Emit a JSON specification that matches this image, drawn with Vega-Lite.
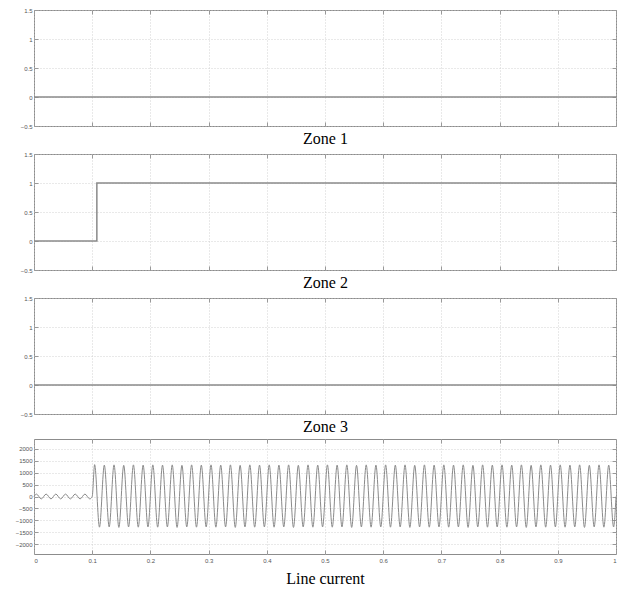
{
  "$schema": "https://vega.github.io/schema/vega-lite/v6.json",
  "padding": {"left": 14, "top": 6, "right": 5, "bottom": 4},
  "spacing": 3,
  "config": {
    "view": {"stroke": "#8c8c8c", "strokeWidth": 1},
    "axis": {
      "labelFont": "Liberation Sans", "labelFontSize": 6, "labelColor": "#555",
      "domain": false, "tickColor": "#999", "tickSize": -4,
      "grid": true, "gridColor": "#c8c8c8", "gridDash": [1, 2], "gridWidth": 0.8,
      "titleFont": "Liberation Serif", "titleFontSize": 16, "titleFontWeight": "normal", "titleColor": "#000",
      "labelPadding": 6
    }
  },
  "datasets": {
    "zero": [{"t": 0, "v": 0}, {"t": 1, "v": 0}],
    "zone2": [{"t": 0, "v": 0}, {"t": 0.108, "v": 0}, {"t": 0.108, "v": 1}, {"t": 1, "v": 1}],
    "current": [
        {"t": 0, "i": 0},
        {"t": 0.00417, "i": 100}, {"t": 0.0125, "i": -100}, {"t": 0.02083, "i": 100}, {"t": 0.02917, "i": -100},
        {"t": 0.0375, "i": 100}, {"t": 0.04583, "i": -100}, {"t": 0.05417, "i": 100}, {"t": 0.0625, "i": -100},
        {"t": 0.07083, "i": 100}, {"t": 0.07917, "i": -100}, {"t": 0.0875, "i": 100}, {"t": 0.09583, "i": -100},
        {"t": 0.1, "i": 0},
        {"t": 0.10417, "i": 1330}, {"t": 0.1125, "i": -1280}, {"t": 0.12083, "i": 1310}, {"t": 0.12917, "i": -1270},
        {"t": 0.1375, "i": 1320}, {"t": 0.14583, "i": -1290}, {"t": 0.15417, "i": 1300}, {"t": 0.1625, "i": -1270},
        {"t": 0.17083, "i": 1320}, {"t": 0.17917, "i": -1280}, {"t": 0.1875, "i": 1310}, {"t": 0.19583, "i": -1270},
        {"t": 0.20417, "i": 1320}, {"t": 0.2125, "i": -1280}, {"t": 0.22083, "i": 1310}, {"t": 0.22917, "i": -1270},
        {"t": 0.2375, "i": 1320}, {"t": 0.24583, "i": -1290}, {"t": 0.25417, "i": 1300}, {"t": 0.2625, "i": -1270},
        {"t": 0.27083, "i": 1320}, {"t": 0.27917, "i": -1280}, {"t": 0.2875, "i": 1310}, {"t": 0.29583, "i": -1270},
        {"t": 0.30417, "i": 1320}, {"t": 0.3125, "i": -1280}, {"t": 0.32083, "i": 1310}, {"t": 0.32917, "i": -1270},
        {"t": 0.3375, "i": 1320}, {"t": 0.34583, "i": -1290}, {"t": 0.35417, "i": 1300}, {"t": 0.3625, "i": -1270},
        {"t": 0.37083, "i": 1320}, {"t": 0.37917, "i": -1280}, {"t": 0.3875, "i": 1310}, {"t": 0.39583, "i": -1270},
        {"t": 0.40417, "i": 1320}, {"t": 0.4125, "i": -1280}, {"t": 0.42083, "i": 1310}, {"t": 0.42917, "i": -1270},
        {"t": 0.4375, "i": 1320}, {"t": 0.44583, "i": -1290}, {"t": 0.45417, "i": 1300}, {"t": 0.4625, "i": -1270},
        {"t": 0.47083, "i": 1320}, {"t": 0.47917, "i": -1280}, {"t": 0.4875, "i": 1310}, {"t": 0.49583, "i": -1270},
        {"t": 0.50417, "i": 1320}, {"t": 0.5125, "i": -1280}, {"t": 0.52083, "i": 1310}, {"t": 0.52917, "i": -1270},
        {"t": 0.5375, "i": 1320}, {"t": 0.54583, "i": -1290}, {"t": 0.55417, "i": 1300}, {"t": 0.5625, "i": -1270},
        {"t": 0.57083, "i": 1320}, {"t": 0.57917, "i": -1280}, {"t": 0.5875, "i": 1310}, {"t": 0.59583, "i": -1270},
        {"t": 0.60417, "i": 1320}, {"t": 0.6125, "i": -1280}, {"t": 0.62083, "i": 1310}, {"t": 0.62917, "i": -1270},
        {"t": 0.6375, "i": 1320}, {"t": 0.64583, "i": -1290}, {"t": 0.65417, "i": 1300}, {"t": 0.6625, "i": -1270},
        {"t": 0.67083, "i": 1320}, {"t": 0.67917, "i": -1280}, {"t": 0.6875, "i": 1310}, {"t": 0.69583, "i": -1270},
        {"t": 0.70417, "i": 1320}, {"t": 0.7125, "i": -1280}, {"t": 0.72083, "i": 1310}, {"t": 0.72917, "i": -1270},
        {"t": 0.7375, "i": 1320}, {"t": 0.74583, "i": -1290}, {"t": 0.75417, "i": 1300}, {"t": 0.7625, "i": -1270},
        {"t": 0.77083, "i": 1320}, {"t": 0.77917, "i": -1280}, {"t": 0.7875, "i": 1310}, {"t": 0.79583, "i": -1270},
        {"t": 0.80417, "i": 1320}, {"t": 0.8125, "i": -1280}, {"t": 0.82083, "i": 1310}, {"t": 0.82917, "i": -1270},
        {"t": 0.8375, "i": 1320}, {"t": 0.84583, "i": -1290}, {"t": 0.85417, "i": 1300}, {"t": 0.8625, "i": -1270},
        {"t": 0.87083, "i": 1320}, {"t": 0.87917, "i": -1280}, {"t": 0.8875, "i": 1310}, {"t": 0.89583, "i": -1270},
        {"t": 0.90417, "i": 1320}, {"t": 0.9125, "i": -1280}, {"t": 0.92083, "i": 1310}, {"t": 0.92917, "i": -1270},
        {"t": 0.9375, "i": 1320}, {"t": 0.94583, "i": -1290}, {"t": 0.95417, "i": 1300}, {"t": 0.9625, "i": -1270},
        {"t": 0.97083, "i": 1320}, {"t": 0.97917, "i": -1280}, {"t": 0.9875, "i": 1310}, {"t": 0.99583, "i": -1270},
        {"t": 1, "i": 0}
    ]
  },
  "vconcat": [
    {
      "width": 582, "height": 116,
      "data": {"name": "zero"},
      "resolve": {"axis": {"x": "independent", "y": "independent"}},
      "layer": [
        {
          "mark": {"type": "line", "color": "#8a8a8a", "strokeWidth": 1.5},
          "encoding": {
            "x": {"field": "t", "type": "quantitative", "scale": {"domain": [0, 1], "nice": false},
                  "axis": {"title": "Zone 1", "labels": false, "values": [0,0.1,0.2,0.3,0.4,0.5,0.6,0.7,0.8,0.9,1], "titlePadding": 4}},
            "y": {"field": "v", "type": "quantitative", "scale": {"domain": [-0.5, 1.5], "nice": false},
                  "axis": {"title": null, "format": "~g", "values": [-0.5, 0, 0.5, 1, 1.5]}}
          }
        },
        {
          "mark": {"type": "line", "opacity": 0},
          "encoding": {
            "x": {"field": "t", "type": "quantitative", "axis": {"orient": "top", "title": null, "labels": false, "grid": false, "values": [0,0.1,0.2,0.3,0.4,0.5,0.6,0.7,0.8,0.9,1]}},
            "y": {"field": "v", "type": "quantitative", "axis": {"orient": "right", "title": null, "labels": false, "grid": false, "values": [-0.5, 0, 0.5, 1, 1.5]}}
          }
        }
      ]
    },
    {
      "width": 582, "height": 116,
      "data": {"name": "zone2"},
      "resolve": {"axis": {"x": "independent", "y": "independent"}},
      "layer": [
        {
          "mark": {"type": "line", "color": "#8a8a8a", "strokeWidth": 1.5},
          "encoding": {
            "x": {"field": "t", "type": "quantitative", "scale": {"domain": [0, 1], "nice": false},
                  "axis": {"title": "Zone 2", "labels": false, "values": [0,0.1,0.2,0.3,0.4,0.5,0.6,0.7,0.8,0.9,1], "titlePadding": 4}},
            "y": {"field": "v", "type": "quantitative", "scale": {"domain": [-0.5, 1.5], "nice": false},
                  "axis": {"title": null, "format": "~g", "values": [-0.5, 0, 0.5, 1, 1.5]}}
          }
        },
        {
          "mark": {"type": "line", "opacity": 0},
          "encoding": {
            "x": {"field": "t", "type": "quantitative", "axis": {"orient": "top", "title": null, "labels": false, "grid": false, "values": [0,0.1,0.2,0.3,0.4,0.5,0.6,0.7,0.8,0.9,1]}},
            "y": {"field": "v", "type": "quantitative", "axis": {"orient": "right", "title": null, "labels": false, "grid": false, "values": [-0.5, 0, 0.5, 1, 1.5]}}
          }
        }
      ]
    },
    {
      "width": 582, "height": 116,
      "data": {"name": "zero"},
      "resolve": {"axis": {"x": "independent", "y": "independent"}},
      "layer": [
        {
          "mark": {"type": "line", "color": "#8a8a8a", "strokeWidth": 1.5},
          "encoding": {
            "x": {"field": "t", "type": "quantitative", "scale": {"domain": [0, 1], "nice": false},
                  "axis": {"title": "Zone 3", "labels": false, "values": [0,0.1,0.2,0.3,0.4,0.5,0.6,0.7,0.8,0.9,1], "titlePadding": 4}},
            "y": {"field": "v", "type": "quantitative", "scale": {"domain": [-0.5, 1.5], "nice": false},
                  "axis": {"title": null, "format": "~g", "values": [-0.5, 0, 0.5, 1, 1.5]}}
          }
        },
        {
          "mark": {"type": "line", "opacity": 0},
          "encoding": {
            "x": {"field": "t", "type": "quantitative", "axis": {"orient": "top", "title": null, "labels": false, "grid": false, "values": [0,0.1,0.2,0.3,0.4,0.5,0.6,0.7,0.8,0.9,1]}},
            "y": {"field": "v", "type": "quantitative", "axis": {"orient": "right", "title": null, "labels": false, "grid": false, "values": [-0.5, 0, 0.5, 1, 1.5]}}
          }
        }
      ]
    },
    {
      "width": 582, "height": 115,
      "data": {"name": "current"},
      "resolve": {"axis": {"x": "independent", "y": "independent"}},
      "layer": [
        {
          "mark": {"type": "line", "color": "#8a8a8a", "strokeWidth": 1, "interpolate": "monotone"},
          "encoding": {
            "x": {"field": "t", "type": "quantitative", "scale": {"domain": [0, 1], "nice": false},
                  "axis": {"title": "Line current", "format": "~g", "values": [0,0.1,0.2,0.3,0.4,0.5,0.6,0.7,0.8,0.9,1], "labelPadding": 7, "titlePadding": 7}},
            "y": {"field": "i", "type": "quantitative", "scale": {"domain": [-2400, 2400], "nice": false},
                  "axis": {"title": null, "format": "d", "values": [-2000, -1500, -1000, -500, 0, 500, 1000, 1500, 2000]}}
          }
        },
        {
          "mark": {"type": "line", "opacity": 0},
          "encoding": {
            "x": {"field": "t", "type": "quantitative", "axis": {"orient": "top", "title": null, "labels": false, "grid": false, "values": [0,0.1,0.2,0.3,0.4,0.5,0.6,0.7,0.8,0.9,1]}},
            "y": {"field": "i", "type": "quantitative", "axis": {"orient": "right", "title": null, "labels": false, "grid": false, "values": [-2000, -1500, -1000, -500, 0, 500, 1000, 1500, 2000]}}
          }
        }
      ]
    }
  ]
}
